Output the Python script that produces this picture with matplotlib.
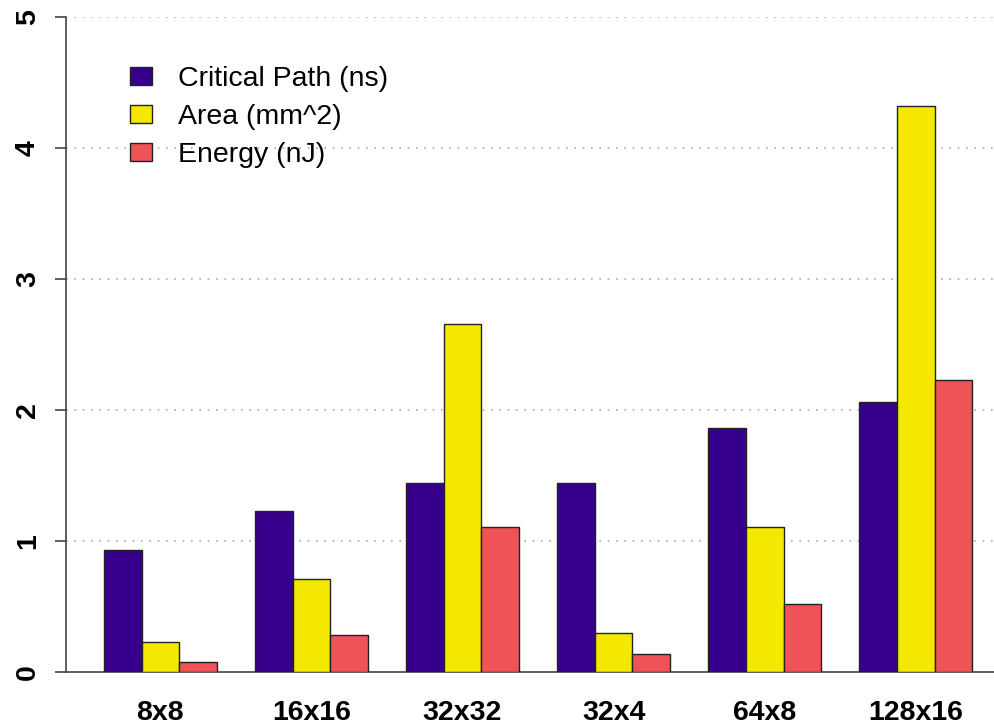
import numpy as np
import matplotlib.pyplot as plt

plt.rcParams['font.family'] = ['Liberation Sans', 'DejaVu Sans']

configs = ['8x8', '16x16', '32x32', '32x4', '64x8', '128x16']
critical_path = [0.93, 1.23, 1.44, 1.44, 1.86, 2.06]
area = [0.23, 0.71, 2.66, 0.30, 1.11, 4.32]
energy = [0.076, 0.28, 1.11, 0.14, 0.52, 2.23]

series = [critical_path, area, energy]
labels = ['Critical Path (ns)', 'Area (mm^2)', 'Energy (nJ)']
colors = ['#36008C', '#F5E800', '#EF5257']

fig = plt.figure(figsize=(9.95, 7.25), dpi=100)
ax = fig.add_axes([66 / 995, 1 - 672 / 725, 1 - 66 / 995, (672 - 17) / 725])

# R-style beside barplot: bar width 1, one bar gap between groups
grp = np.arange(len(configs)) * 4 + 1
for i, vals in enumerate(series):
    ax.bar(grp + i, vals, width=1, align='edge', color=colors[i],
           edgecolor='#222222', linewidth=1, label=labels[i], zorder=3)

ax.set_xlim(0, 24.6)
ax.set_ylim(0, 5)
ax.set_yticks(range(6))
ax.set_yticklabels([str(v) for v in range(6)], rotation=90, va='center',
                   fontsize=20.5, fontweight='bold')
ax.set_xticks(grp + 1.5)
ax.set_xticklabels(configs, fontsize=20.5, fontweight='bold')
ax.tick_params(axis='x', length=0, pad=20)
ax.tick_params(axis='y', length=8, width=1.2, color='#444444', pad=10)

for y in range(1, 6):
    ax.axhline(y, color='#aaaaaa', linestyle=(0, (1, 4)), linewidth=1.2, zorder=1)

for s in ['top', 'right']:
    ax.spines[s].set_visible(False)
ax.spines['left'].set_color('#444444')
ax.spines['bottom'].set_color('#444444')
ax.spines['left'].set_linewidth(1.2)
ax.spines['bottom'].set_linewidth(1.2)

ax.legend(loc='upper left', bbox_to_anchor=(130 / 995, 1 - 66 / 725),
          bbox_transform=fig.transFigure, frameon=False, fontsize=20.5,
          handlelength=0.77, handleheight=0.56, handletextpad=0.9,
          labelspacing=0.42, borderpad=0, borderaxespad=0)

plt.savefig('out.png', dpi=100)
